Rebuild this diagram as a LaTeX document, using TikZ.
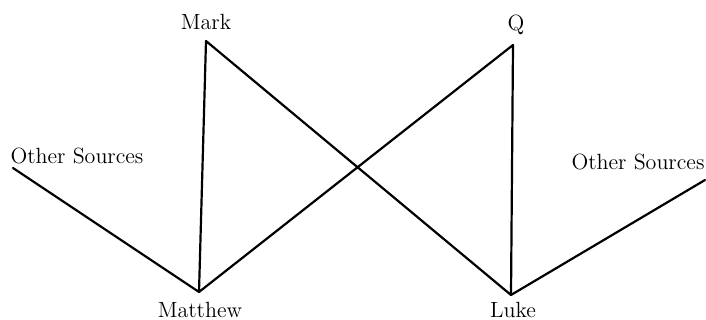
\documentclass[tikz,border=0pt]{standalone}
\usepackage{tikz}
\usetikzlibrary{positioning}

\begin{document}
\begin{tikzpicture}[x=0.5pt, y=0.5pt,
  src/.style={font=\fontsize{11}{13}\selectfont, inner sep=1pt},
  link/.style={line width=1.1pt, line cap=round, line join=round},
]
  \useasboundingbox (0,0) rectangle (706,320);
  % --- sources ---
  \node[src] (mark) at (206,298) {Mark};
  \node[src] (q) at (516,295) {Q};
  \node[src] (othl) at (77,164) {Other Sources};
  \node[src] (othr) at (638,158) {Other Sources};
  % --- gospels ---
  \node[src] (mt) at (200,10) {Matthew};
  \node[src] (lk) at (513,10) {Luke};
  % --- line ends ---
  \coordinate (pmark) at (206,279);
  \coordinate (pq) at (513,275);
  \coordinate (pothl) at (13,152);
  \coordinate (pothr) at (705,140);
  \coordinate (pmt) at (199,28);
  \coordinate (plk) at (511,25);
  \draw[link] (pothl) -- (pmt) -- (pmark) -- (plk) -- (pq) -- (pmt);
  \draw[link] (plk) -- (pothr);
\end{tikzpicture}
\end{document}
